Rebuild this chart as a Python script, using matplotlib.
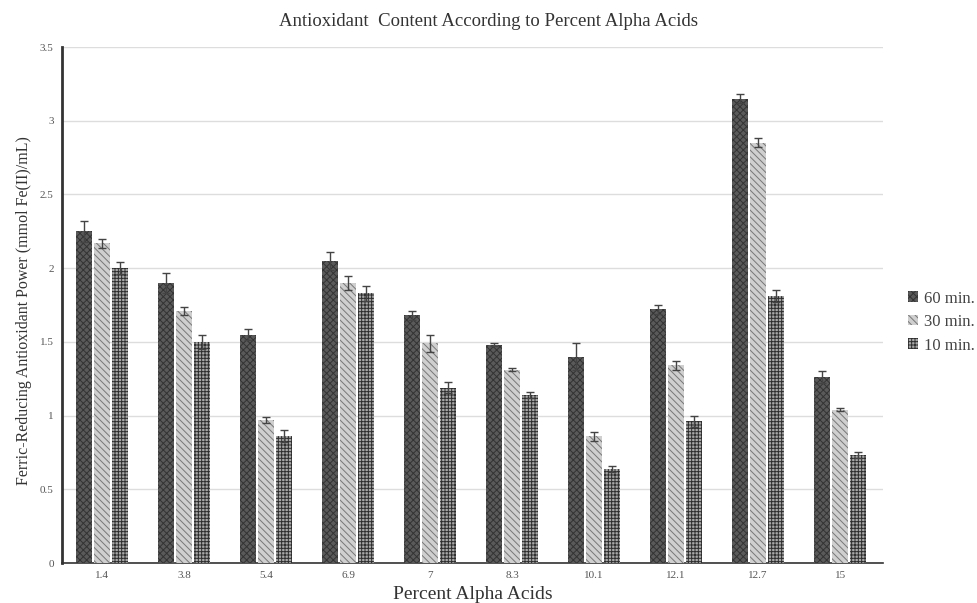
import numpy as np
import matplotlib.pyplot as plt

plt.rcParams['font.family'] = ['Liberation Serif', 'DejaVu Serif']
plt.rcParams['hatch.linewidth'] = 0.7

alpha_acids = ['1.4', '3.8', '5.4', '6.9', '7', '8.3', '10.1', '12.1', '12.7', '15']
frap_60 = [2.25, 1.90, 1.55, 2.05, 1.68, 1.48, 1.40, 1.72, 3.15, 1.26]
frap_30 = [2.17, 1.71, 0.97, 1.90, 1.49, 1.31, 0.86, 1.34, 2.85, 1.04]
frap_10 = [2.00, 1.50, 0.86, 1.83, 1.19, 1.14, 0.64, 0.96, 1.81, 0.73]
err_60 = [0.07, 0.07, 0.04, 0.06, 0.03, 0.01, 0.09, 0.03, 0.03, 0.04]
err_30 = [0.03, 0.03, 0.02, 0.05, 0.06, 0.01, 0.03, 0.03, 0.03, 0.01]
err_10 = [0.04, 0.05, 0.04, 0.05, 0.04, 0.02, 0.02, 0.04, 0.04, 0.02]
series = ['60 min.', '30 min.', '10 min.']

fig = plt.figure(figsize=(9.77, 6.03), dpi=100)
ax = fig.add_axes([0.0635, 0.0663, 0.84, 0.8557])

x = np.arange(len(alpha_acids))
w = 0.19
styles = [
    dict(facecolor='#5a5a5a', edgecolor='#333333', hatch='xxxxx'),
    dict(facecolor='#cfcfcf', edgecolor='#777777', hatch='\\\\\\\\\\'),
    dict(facecolor='#a8a8a8', edgecolor='#2e2e2e', hatch='+++++'),
]
for off, vals, errs, lab, st in zip([-0.22, 0, 0.22], [frap_60, frap_30, frap_10],
                                    [err_60, err_30, err_10], series, styles):
    ax.bar(x + off, vals, w, label=lab, linewidth=0, zorder=3, **st)
    ax.errorbar(x + off, vals, yerr=errs, fmt='none', ecolor='#444444',
                elinewidth=1, capsize=3, capthick=1, zorder=4)

ax.set_xlim(-0.49, 9.52)
ax.set_ylim(0, 3.5)
ax.set_yticks(np.arange(0, 3.51, 0.5))
ax.set_yticklabels(['0', '0.5', '1', '1.5', '2', '2.5', '3', '3.5'])
ax.set_xticks(x)
ax.set_xticklabels(alpha_acids)
ax.tick_params(axis='both', length=0, labelsize=8, colors='#555555', pad=6)
ax.grid(axis='y', color='#dddddd', linewidth=1, zorder=0)
for s in ['top', 'right']:
    ax.spines[s].set_visible(False)
ax.spines['left'].set_linewidth(2)
ax.spines['left'].set_color('#333333')
ax.spines['bottom'].set_linewidth(1.2)
ax.spines['bottom'].set_color('#333333')

fig.text(0.5, 0.965, 'Antioxidant  Content According to Percent Alpha Acids',
         fontsize=13.5, color='#333333', ha='center', va='center')
ax.set_xlabel('Percent Alpha Acids', fontsize=14, color='#333333', labelpad=4)
ax.set_ylabel('Ferric-Reducing Antioxidant Power (mmol Fe(II)/mL)', fontsize=11.5,
              color='#333333', labelpad=8)
ax.yaxis.set_label_coords(-0.037, 0.49)

ax.legend(loc='center left', bbox_to_anchor=(1.012, 0.467), frameon=False,
          fontsize=12, handlelength=0.6, handleheight=0.6, handletextpad=0.4,
          labelspacing=0.45, labelcolor='#444444')

fig.savefig('out.png', dpi=100)
